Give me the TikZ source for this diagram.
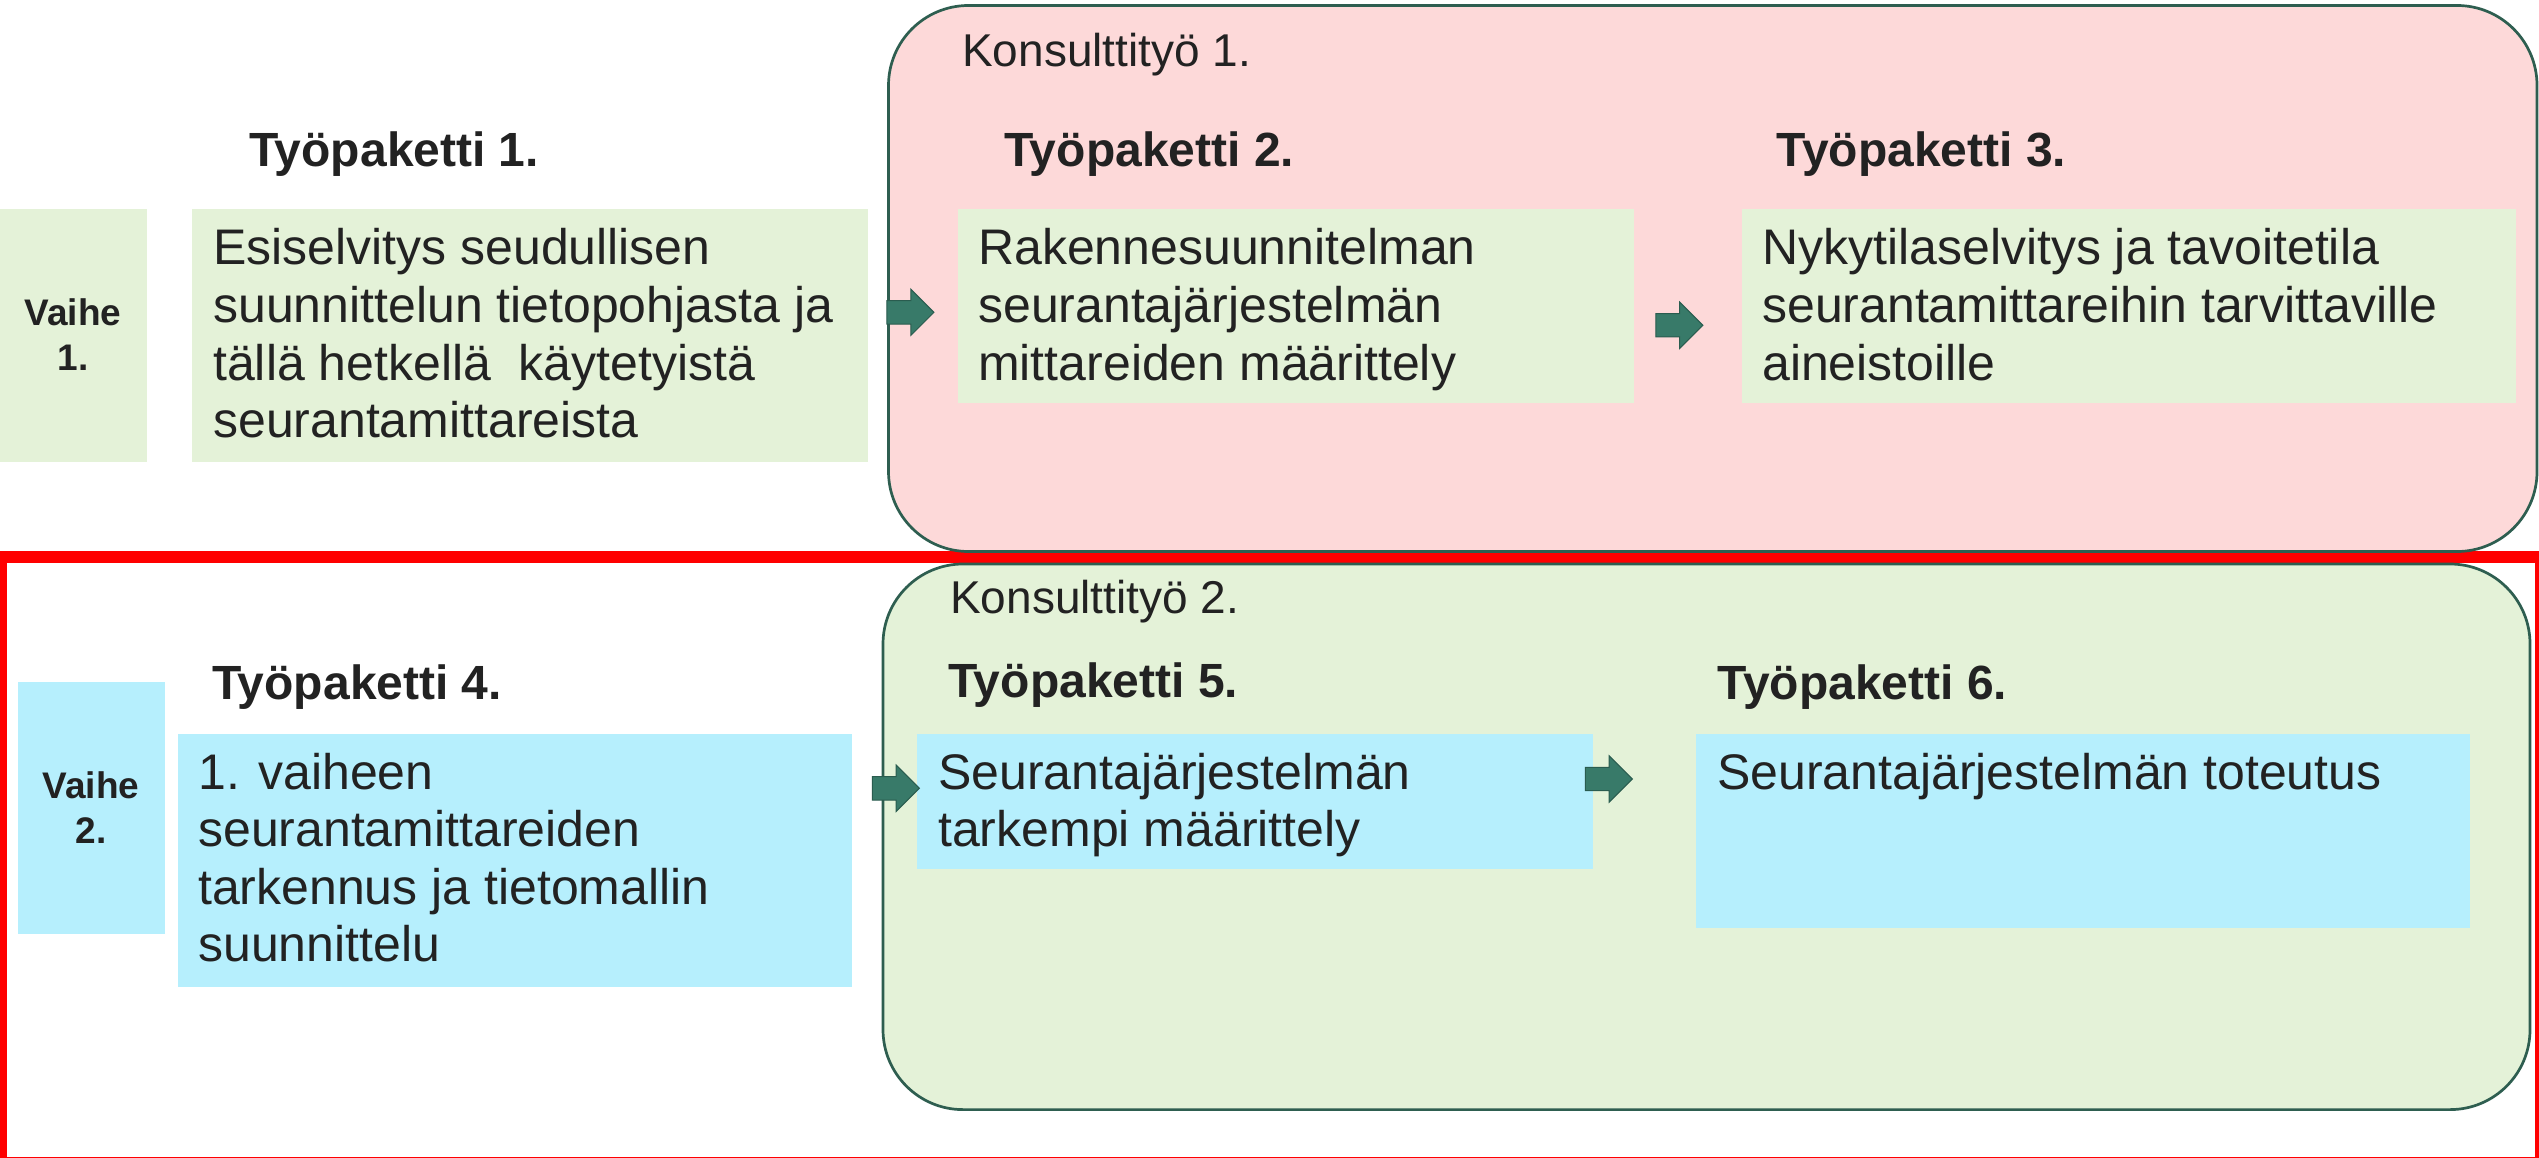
\documentclass[tikz,border=0pt]{standalone}
\usepackage{fontspec}
\setmainfont{Liberation Sans}
\usetikzlibrary{shapes.arrows}
\definecolor{pinkfill}{HTML}{FDD9D9}
\definecolor{greenfill}{HTML}{E4F2D8}
\definecolor{cyanfill}{HTML}{B6EFFD}
\definecolor{framecol}{HTML}{2E5E50}
\definecolor{arrowfill}{HTML}{387A69}
\definecolor{arrowline}{HTML}{2A5C4F}
\definecolor{txt}{HTML}{222222}
\definecolor{redline}{HTML}{FF0000}
\newcommand{\tlines}[1]{\begin{tabular}[t]{@{}l@{}}#1\end{tabular}}
\newcommand{\clines}[1]{\begin{tabular}[t]{@{}c@{}}#1\end{tabular}}
\begin{document}
\begin{tikzpicture}[x=1pt,y=-1pt,
  panel/.style={rectangle, inner sep=0pt, outer sep=0pt, anchor=north west, draw=none},
  greenbox/.style={panel, fill=greenfill},
  cyanbox/.style={panel, fill=cyanfill},
  consult/.style={draw=framecol, line width=2.7pt, rounded corners=80pt},
  bodytext/.style={anchor=base west, inner sep=0pt, text=txt, font=\fontsize{50}{57.6}\selectfont},
  titletext/.style={anchor=base west, inner sep=0pt, text=txt, font=\bfseries\fontsize{48}{57.6}\selectfont},
  consulttext/.style={anchor=base west, inner sep=0pt, text=txt, font=\fontsize{46}{55}\selectfont},
  phasetext/.style={anchor=base, inner sep=0pt, text=txt, font=\bfseries\fontsize{37}{45}\selectfont},
  blockarrow/.style={single arrow, single arrow head extend=11.5pt, minimum height=47pt, inner xsep=0pt, inner ysep=11.2pt, fill=arrowfill, draw=arrowline, line width=1pt}
]
\useasboundingbox (0,0) rectangle (2539,1158);
\clip (0,0) rectangle (2539,1158);
\fill[white] (0,0) rectangle (2539,1158);

% red frame of phase 2
\draw[redline, line width=12pt] (1,556.7) rectangle (2541,1163);

% consultant work areas
\path[consult, fill=pinkfill] (888.5,5.5) rectangle (2537,551.5);
\path[consult, fill=greenfill] (883,564) rectangle (2530,1109.6);
\node[consulttext] (k1) at (962,66.6) {Konsulttityö 1.};
\node[consulttext] (k2) at (950,613.3) {Konsulttityö 2.};

% phase 1
\node[greenbox, minimum width=146.6pt, minimum height=253pt] (v1) at (0,209) {};
\node[phasetext] (v1t) at (73,325) {\clines{Vaihe\\1.}};
\node[greenbox, minimum width=675.5pt, minimum height=253pt] (b1) at (192,209) {};
\node[greenbox, minimum width=676pt, minimum height=193.5pt] (b2) at (958,209) {};
\node[greenbox, minimum width=774pt, minimum height=193.5pt] (b3) at (1742,209) {};

\node[titletext] (t1) at (249,166.5) {Työpaketti 1.};
\node[titletext] (t2) at (1004,166.5) {Työpaketti 2.};
\node[titletext] (t3) at (1776,166.5) {Työpaketti 3.};

\node[bodytext] (b1t) at (213,265) {\tlines{Esiselvitys seudullisen\\suunnittelun tietopohjasta ja\\tällä hetkellä~ käytetyistä\\seurantamittareista}};
\node[bodytext] (b2t) at (978,265) {\tlines{Rakennesuunnitelman\\seurantajärjestelmän\\mittareiden määrittely}};
\node[bodytext] (b3t) at (1762,265) {\tlines{Nykytilaselvitys ja tavoitetila\\seurantamittareihin tarvittaville\\aineistoille}};

% phase 2
\node[cyanbox, minimum width=147pt, minimum height=252pt] (v2) at (18,682) {};
\node[phasetext] (v2t) at (91,798) {\clines{Vaihe\\2.}};
\node[cyanbox, minimum width=674pt, minimum height=253pt] (b4) at (178,734) {};
\node[cyanbox, minimum width=676pt, minimum height=135pt] (b5) at (917,734) {};
\node[cyanbox, minimum width=774pt, minimum height=193.5pt] (b6) at (1696,734) {};

\node[titletext] (t4) at (212,699) {Työpaketti 4.};
\node[titletext] (t5) at (948,697) {Työpaketti 5.};
\node[titletext] (t6) at (1717,699) {Työpaketti 6.};

\node[bodytext] (b4t) at (198,789) {\tlines{1. vaiheen\\seurantamittareiden\\tarkennus ja tietomallin\\suunnittelu}};
\node[bodytext] (b5t) at (938,789) {\tlines{Seurantajärjestelmän\\tarkempi määrittely}};
\node[bodytext] (b6t) at (1717,789) {Seurantajärjestelmän toteutus};

% block arrows between the work packages
\node[blockarrow] (a1) at (904.6,312.3) {};
\node[blockarrow] (a2) at (1673.5,325.2) {};
\node[blockarrow] (a3) at (890,788.3) {};
\node[blockarrow] (a4) at (1603,779) {};
\end{tikzpicture}
\end{document}
